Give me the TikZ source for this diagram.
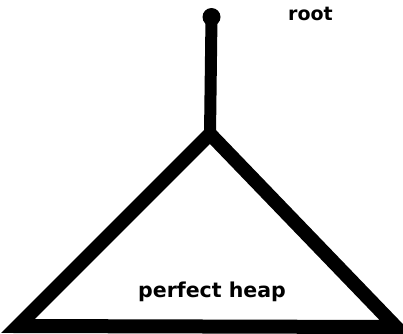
\documentclass[tikz,border=0pt]{standalone}
\usepackage{fontspec}
\setmainfont{DejaVu Sans}
\begin{document}
\begin{tikzpicture}[x=1pt,y=-1pt,
  lbl/.style={font=\bfseries\fontsize{20.5}{24}\selectfont, inner sep=0pt, anchor=base},
  heavy/.style={line width=14pt, line join=miter}]
\useasboundingbox (0,0) rectangle (403,333);
\node[circle, fill=black, minimum size=18pt, inner sep=0pt] (root) at (211.5,17) {};
\coordinate (apex) at (210,134);
\coordinate (bl) at (18,326);
\coordinate (br) at (396,327);
\draw[line width=12pt] (root.center) -- (apex);
\draw[heavy] (apex) -- (bl) -- (br) -- cycle;
\node[lbl, font=\bfseries\fontsize{19}{22}\selectfont] (rootlbl) at (310.5,20) {root};
\node[lbl] (heaplbl) at (212,297) {perfect heap};
\end{tikzpicture}
\end{document}
